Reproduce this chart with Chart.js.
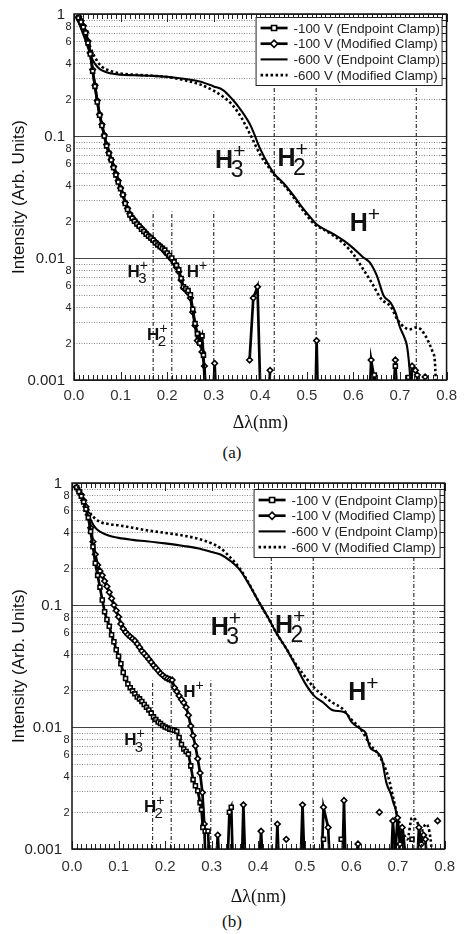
<!DOCTYPE html>
<html>
<head>
<meta charset="utf-8">
<script src="https://cdn.jsdelivr.net/npm/chart.js@4.4.1/dist/chart.umd.min.js"></script>
<style>
  body { margin: 0; background: #fff; width: 464px; height: 934px; position: relative; overflow: hidden; }
  canvas { position: absolute; left: 0; }
  #chartA { top: 0; }
  #chartB { top: 470px; }
  .cap { position: absolute; left: 0; width: 464px; text-align: center; font: 17px "Liberation Serif", serif; color: #111; }
</style>
</head>
<body>
<canvas id="chartA" width="464" height="434"></canvas>
<canvas id="chartB" width="464" height="438"></canvas>
<div class="cap" style="top:443px">(a)</div>
<div class="cap" style="top:912px">(b)</div>
<script>
// ---- shared axis / legend text ----
const xTicks = [0, 0.1, 0.2, 0.3, 0.4, 0.5, 0.6, 0.7, 0.8];
const yDecades = [0.001, 0.01, 0.1, 1];
const yDecadeLabels = ['0.001', '0.01', '0.1', '1'];
const yMinorSteps = [2, 3, 4, 5, 6, 7, 8, 9];
const yMinorLabeled = [2, 4, 6, 8];
const seriesNames = ['-100 V (Endpoint Clamp)', '-100 V (Modified Clamp)', '-600 V (Endpoint Clamp)', '-600 V (Modified Clamp)'];
const ionSubs = ['3', '2', ''];

// ---- panel (a) ----
const a100EndX = [0,0.005,0.01,0.015,0.02,0.025,0.03,0.035,0.04,0.045,0.05,0.055,0.06,0.065,0.07,0.075,0.08,0.085,0.09,0.095,0.1,0.105,0.11,0.115,0.12,0.125,0.13,0.135,0.14,0.145,0.15,0.155,0.16,0.165,0.17,0.175,0.18,0.185,0.19,0.195,0.2,0.205,0.21,0.215,0.22,0.225,0.23,0.235,0.24,0.245,0.25,0.255,0.26,0.265,0.27,0.275,0.278,0.282,0.3,0.64,0.645,0.65,0.67,0.685,0.69,0.695,0.705,0.713,0.718,0.723];
const a100EndY = [1,0.98,0.93,0.86,0.78,0.7,0.58,0.47,0.34,0.255,0.19,0.148,0.122,0.1,0.083,0.072,0.0636,0.055,0.048,0.042,0.037,0.033,0.028,0.025,0.0225,0.0212,0.02,0.019,0.0182,0.0172,0.0165,0.0157,0.0151,0.0146,0.014,0.0133,0.0128,0.0124,0.012,0.0116,0.011,0.0105,0.01,0.0093,0.0087,0.008,0.0068,0.0058,0.0056,0.0054,0.005,0.0038,0.0029,0.0024,0.002,0.0023,0.0016,0.0007,null,0.0006,0.0011,0.0006,null,0.0006,0.0013,0.0006,null,0.0006,0.00105,0.0006];
const a100ModX = [0,0.005,0.01,0.015,0.02,0.025,0.03,0.035,0.04,0.045,0.05,0.055,0.06,0.065,0.07,0.075,0.08,0.085,0.09,0.095,0.1,0.105,0.11,0.115,0.12,0.125,0.13,0.135,0.14,0.145,0.15,0.155,0.16,0.165,0.17,0.175,0.18,0.185,0.19,0.195,0.2,0.205,0.21,0.215,0.22,0.225,0.23,0.235,0.24,0.245,0.25,0.255,0.26,0.265,0.27,0.275,0.28,0.284,
  0.29,0.298,0.302,0.306,0.35,0.377,0.385,0.394,0.401,0.41,0.418,0.421,0.45,0.518,0.521,0.524,0.6,0.634,0.638,0.645,0.65,0.67,0.686,0.69,0.694,0.71,0.722,0.726,0.733,0.737,0.742,0.748,0.754];
const a100ModY = [1,0.99,0.95,0.88,0.8,0.71,0.6,0.48,0.35,0.26,0.195,0.15,0.124,0.102,0.085,0.073,0.064,0.056,0.049,0.043,0.0375,0.033,0.0285,0.0255,0.023,0.0215,0.0203,0.0192,0.0183,0.0175,0.0167,0.0159,0.0152,0.0146,0.0141,0.0135,0.013,0.0125,0.0119,0.0113,0.0108,0.0102,0.0097,0.0091,0.0084,0.0077,0.0066,0.0057,0.0055,0.0052,0.0047,0.0036,0.0028,0.0021,0.0023,0.0017,0.0013,0.0007,
  null,0.0006,0.00137,0.0006,null,0.00146,0.0047,0.0058,0.0006,null,0.0007,0.0012,null,0.0006,0.0021,0.0006,null,0.0006,0.00146,0.001,0.0006,null,0.0006,0.00146,0.0006,null,0.0006,0.0013,0.0012,0.0011,0.0006,null,0.00106];
const a600EndX = [0,0.01,0.02,0.03,0.04,0.05,0.06,0.08,0.1,0.13,0.16,0.2,0.24,0.27,0.3,0.32,0.34,0.36,0.38,0.4,0.42,0.43,0.45,0.47,0.49,0.51,0.52,0.54,0.56,0.58,0.6,0.62,0.635,0.65,0.665,0.68,0.69,0.7,0.71,0.715,0.72,0.725];
const a600EndY = [1,0.85,0.68,0.53,0.42,0.37,0.345,0.325,0.318,0.315,0.312,0.306,0.293,0.28,0.255,0.238,0.2,0.16,0.12,0.078,0.056,0.049,0.041,0.033,0.026,0.021,0.019,0.017,0.0155,0.0138,0.012,0.0102,0.0092,0.0072,0.0049,0.0043,0.0036,0.0027,0.0022,0.0019,0.0013,0.0007];
const a600ModX = [0,0.01,0.02,0.03,0.04,0.05,0.06,0.08,0.1,0.13,0.16,0.2,0.24,0.27,0.3,0.32,0.34,0.36,0.38,0.4,0.42,0.43,0.45,0.47,0.49,0.51,0.52,0.54,0.56,0.58,0.6,0.62,0.64,0.66,0.68,0.695,0.71,0.72,0.735,0.745,0.76,0.77,0.775,0.778];
const a600ModY = [1,0.9,0.75,0.6,0.48,0.41,0.37,0.34,0.325,0.318,0.313,0.305,0.285,0.265,0.235,0.21,0.18,0.14,0.1,0.07,0.054,0.048,0.04,0.032,0.025,0.02,0.0185,0.0168,0.015,0.013,0.0107,0.0082,0.0062,0.0046,0.004,0.0031,0.0027,0.0026,0.0027,0.0026,0.0021,0.0017,0.0014,0.0007];
const aShortLineX = [0.17, 0.21, 0.30];
const aTallLineX = [0.43, 0.52, 0.735];
const aBigIonX = [0.303, 0.437, 0.592];
const aBigIonY = [0.0547, 0.0568, 0.0166];
const aSmallIonX = [0.115, 0.157, 0.242];
const aSmallIonY = [0.00703, 0.00213, 0.00703];

// ---- panel (b) ----
const b100EndX = [0,0.005,0.01,0.015,0.02,0.025,0.03,0.035,0.04,0.045,0.05,0.055,0.06,0.065,0.07,0.075,0.08,0.085,0.09,0.095,0.1,0.105,0.11,0.115,0.12,0.125,0.13,0.135,0.14,0.145,0.15,0.155,0.16,0.165,0.17,0.175,0.18,0.185,0.19,0.195,0.2,0.205,0.21,0.215,0.22,0.225,0.23,0.235,0.24,0.245,0.25,0.255,0.26,0.265,0.27,0.275,
  0.278,0.281,0.286,0.292,0.296,0.32,0.333,0.338,0.342,0.346,0.5,0.54,0.56,0.578,0.7,0.73];
const b100EndY = [1,0.97,0.92,0.85,0.78,0.7,0.61,0.52,0.4,0.3,0.22,0.175,0.14,0.11,0.088,0.076,0.067,0.057,0.05,0.043,0.038,0.033,0.028,0.025,0.0225,0.021,0.0198,0.0187,0.0176,0.017,0.0162,0.0153,0.0145,0.0138,0.013,0.0121,0.0115,0.011,0.0107,0.0103,0.01,0.0098,0.0096,0.0095,0.0094,0.0092,0.0082,0.0072,0.0066,0.0063,0.006,0.0048,0.0037,0.0033,0.003,0.0024,
  0.0021,0.0015,0.0014,0.0014,0.0007,null,0.0006,0.002,0.0022,0.0006,null,0.0012,null,0.0012,null,0.0012];
const b100ModX = [0,0.005,0.01,0.015,0.02,0.025,0.03,0.035,0.04,0.045,0.05,0.055,0.06,0.065,0.07,0.075,0.08,0.085,0.09,0.095,0.1,0.105,0.11,0.115,0.12,0.125,0.13,0.135,0.14,0.145,0.15,0.155,0.16,0.165,0.17,0.175,0.18,0.185,0.19,0.195,0.2,0.205,0.21,0.215,0.22,0.225,0.23,0.235,0.24,0.245,0.25,0.255,0.26,0.265,0.27,0.275,0.28,0.284,0.287,
  0.3,0.308,0.313,0.318,0.36,0.364,0.368,0.373,0.39,0.401,0.406,0.411,0.43,0.437,0.441,0.445,0.452,0.46,0.47,0.49,0.495,0.5,0.52,0.535,0.54,0.55,0.555,0.57,0.58,0.584,0.588,0.6,0.61,0.614,0.618,0.64,0.66,0.675,0.684,0.689,0.694,0.699,0.704,0.709,0.714,0.72,0.74,0.745,0.75,0.755,0.759,0.764,0.775,0.785];
const b100ModY = [1,0.97,0.92,0.86,0.8,0.72,0.64,0.55,0.43,0.33,0.26,0.213,0.19,0.175,0.157,0.142,0.127,0.113,0.1,0.09,0.08,0.07,0.064,0.06,0.057,0.055,0.053,0.051,0.048,0.045,0.042,0.04,0.038,0.036,0.034,0.032,0.0305,0.029,0.0275,0.0265,0.0255,0.025,0.0245,0.0243,0.021,0.0195,0.018,0.0168,0.0158,0.0145,0.0125,0.0102,0.0085,0.007,0.0055,0.0042,0.0029,0.0016,0.0007,
  null,0.0006,0.0013,0.0006,null,0.0006,0.0023,0.0006,null,0.0006,0.0014,0.0006,null,0.0006,0.0016,0.0006,null,0.0012,null,0.0006,0.0023,0.0006,null,0.0006,0.0022,0.0015,0.0006,null,0.0006,0.0025,0.0006,null,0.0006,0.0011,0.0006,null,0.002,null,0.0006,0.0017,0.0009,0.0018,0.0011,0.0015,0.0007,null,0.0006,0.0015,0.0011,0.0013,0.0012,0.0006,null,0.0017];
const b600EndX = [0,0.01,0.02,0.03,0.04,0.05,0.06,0.08,0.1,0.13,0.16,0.2,0.24,0.27,0.3,0.32,0.34,0.36,0.38,0.4,0.42,0.44,0.46,0.48,0.5,0.52,0.54,0.56,0.58,0.59,0.6,0.62,0.63,0.64,0.655,0.665,0.675,0.685,0.69,0.695,0.7,0.705,0.71,0.715,0.72];
const b600EndY = [1,0.9,0.78,0.64,0.5,0.43,0.4,0.37,0.355,0.342,0.333,0.32,0.305,0.292,0.272,0.258,0.23,0.195,0.148,0.108,0.08,0.058,0.044,0.032,0.023,0.018,0.0158,0.0137,0.0134,0.0128,0.011,0.0096,0.009,0.0068,0.0062,0.0055,0.0035,0.0028,0.0024,0.0021,0.0016,0.0013,0.0015,0.001,0.0007];
const b600ModX = [0,0.01,0.02,0.03,0.04,0.05,0.06,0.08,0.1,0.13,0.16,0.2,0.24,0.27,0.3,0.32,0.34,0.36,0.38,0.4,0.42,0.44,0.46,0.48,0.5,0.52,0.54,0.56,0.58,0.6,0.62,0.64,0.66,0.68,0.69,0.7,0.71,0.72,0.73,0.74,0.75,0.76,0.77,0.775];
const b600ModY = [1,0.9,0.78,0.66,0.56,0.51,0.48,0.46,0.45,0.43,0.41,0.39,0.37,0.35,0.32,0.29,0.245,0.2,0.15,0.108,0.08,0.058,0.044,0.033,0.026,0.021,0.018,0.0158,0.0142,0.0115,0.0096,0.0072,0.0058,0.0038,0.0026,0.0018,0.0014,0.0012,0.0018,0.0017,0.0014,0.0016,0.0012,0.0007];
const bShortLineX = [0.173, 0.213, 0.298];
const bTallLineX = [0.428, 0.518, 0.734];
const bBigIonX = [0.298, 0.436, 0.593];
const bBigIonY = [0.0568, 0.059, 0.0166];
const bSmallIonX = [0.112, 0.1545, 0.239];
const bSmallIonY = [0.0071, 0.00202, 0.0176];

const shortLineTop = 0.024;
const tallLineTop = 0.25;

const FONT = "'Liberation Sans', Arial, sans-serif";

function pts(xs, ys) {
  return xs.map((x, i) => ({ x: x, y: ys[i] }));
}

// vertical dash-dot guide lines, one dataset, broken by nulls
function guideData(shortX, tallX) {
  const out = [];
  shortX.forEach(x => { out.push({ x, y: 0.001 }, { x, y: shortLineTop }, { x, y: null }); });
  tallX.forEach(x => { out.push({ x, y: 0.001 }, { x, y: tallLineTop }, { x, y: null }); });
  return out;
}

function drawIon(ctx, px, py, sub, size) {
  ctx.fillStyle = '#111';
  ctx.textAlign = 'left';
  ctx.textBaseline = 'alphabetic';
  ctx.font = `bold ${size}px ${FONT}`;
  ctx.fillText('H', px, py);
  const w = ctx.measureText('H').width;
  ctx.font = `${Math.round(size * 0.9)}px ${FONT}`;
  if (sub) ctx.fillText(sub, px + w - size * 0.1, py + size * 0.38);
  ctx.font = `${Math.round(size * 0.85)}px ${FONT}`;
  ctx.fillText('+', px + w, py - size * 0.4);
}

const panelPlugin = {
  id: 'panel',
  beforeDatasetsDraw(chart) {
    const { ctx, chartArea: a, scales: { y } } = chart;
    ctx.save();
    ctx.lineWidth = 1;
    // minor grid, dotted
    ctx.strokeStyle = '#8c8c8c';
    ctx.setLineDash([1, 1.5]);
    yDecades.slice(0, -1).forEach(d => yMinorSteps.forEach(m => {
      const py = Math.round(y.getPixelForValue(d * m)) + 0.5;
      ctx.beginPath(); ctx.moveTo(a.left, py); ctx.lineTo(a.right, py); ctx.stroke();
    }));
    // decade lines, solid
    ctx.setLineDash([]);
    ctx.strokeStyle = '#444';
    yDecades.forEach(d => {
      const py = Math.round(y.getPixelForValue(d)) + 0.5;
      ctx.beginPath(); ctx.moveTo(a.left, py); ctx.lineTo(a.right, py); ctx.stroke();
    });
    ctx.restore();
  },
  afterDatasetsDraw(chart, args, o) {
    const { ctx, chartArea: a, scales: { x, y } } = chart;
    ctx.save();

    // x minor / major ticks, top and bottom
    ctx.strokeStyle = '#222';
    ctx.lineWidth = 1;
    for (let i = 0; i <= 80; i++) {
      const px = Math.round(x.getPixelForValue(i / 100)) + 0.5;
      const len = i % 10 === 0 ? 8 : 5;
      ctx.beginPath();
      ctx.moveTo(px, a.bottom); ctx.lineTo(px, a.bottom - len);
      ctx.moveTo(px, a.top); ctx.lineTo(px, a.top + len);
      ctx.stroke();
    }
    // y ticks on right edge
    yDecades.slice(0, -1).forEach(d => yMinorSteps.forEach(m => {
      const py = Math.round(y.getPixelForValue(d * m)) + 0.5;
      ctx.beginPath(); ctx.moveTo(a.right, py); ctx.lineTo(a.right - 5, py); ctx.stroke();
    }));

    // frame
    ctx.lineWidth = 1.5;
    ctx.strokeStyle = '#111';
    ctx.strokeRect(a.left, a.top, a.right - a.left, a.bottom - a.top);

    // y labels
    ctx.fillStyle = '#222';
    ctx.textAlign = 'right';
    ctx.textBaseline = 'middle';
    ctx.font = `15px ${FONT}`;
    yDecades.forEach((d, i) => ctx.fillText(yDecadeLabels[i], a.left - o.decGap, y.getPixelForValue(d) + 1));
    ctx.font = `11px ${FONT}`;
    yDecades.slice(0, -1).forEach(d => yMinorLabeled.forEach(m => {
      ctx.fillText(String(m), a.left - o.minGap, y.getPixelForValue(d * m) + 1);
    }));

    // ion labels
    o.bigX.forEach((v, i) => drawIon(ctx, x.getPixelForValue(v), y.getPixelForValue(o.bigY[i]), ionSubs[i], 25));
    o.smallX.forEach((v, i) => drawIon(ctx, x.getPixelForValue(v), y.getPixelForValue(o.smallY[i]), ionSubs[i], 17));

    // legend box
    const bx = a.right - 191, by = a.top + o.legendTop, bw = 186, bh = 68;
    ctx.fillStyle = '#fff';
    ctx.fillRect(bx, by, bw, bh);
    ctx.lineWidth = 1;
    ctx.strokeStyle = '#222';
    ctx.strokeRect(bx + 0.5, by + 0.5, bw, bh);
    ctx.font = `13.3px ${FONT}`;
    ctx.textAlign = 'left';
    ctx.textBaseline = 'middle';
    chart.data.datasets.slice(0, 4).forEach((ds, i) => {
      const ry = by + 11 + i * 15.7;
      ctx.save();
      ctx.strokeStyle = '#000';
      ctx.lineWidth = ds.borderWidth;
      ctx.setLineDash(ds.borderDash || []);
      ctx.beginPath(); ctx.moveTo(bx + 5, ry); ctx.lineTo(bx + 32, ry); ctx.stroke();
      ctx.restore();
      if (ds.pointRadius > 0) {
        ctx.fillStyle = '#fff';
        ctx.strokeStyle = '#000';
        ctx.lineWidth = ds.pointBorderWidth;
        Chart.helpers.drawPoint(ctx, { pointStyle: ds.pointStyle, radius: ds.pointRadius + 0.8, borderWidth: ds.pointBorderWidth }, bx + 18.5, ry);
      }
      ctx.fillStyle = '#222';
      ctx.fillText(ds.label, bx + 38, ry + 1);
    });
    ctx.restore();
  }
};

function makeChart(id, series, shortX, tallX, lay) {
  const marker = { pointBackgroundColor: '#fff', pointBorderColor: '#000', pointBorderWidth: 1.6 };
  const datasets = [
    Object.assign({ label: seriesNames[0], data: pts(series[0][0], series[0][1]), borderColor: '#000', borderWidth: 2.7,
      pointStyle: 'rect', pointRadius: 2.8 }, marker),
    Object.assign({ label: seriesNames[1], data: pts(series[1][0], series[1][1]), borderColor: '#000', borderWidth: 2.7,
      pointStyle: 'rectRot', pointRadius: 2.8 }, marker),
    { label: seriesNames[2], data: pts(series[2][0], series[2][1]), borderColor: '#000', borderWidth: 2.1,
      pointRadius: 0, cubicInterpolationMode: 'monotone' },
    { label: seriesNames[3], data: pts(series[3][0], series[3][1]), borderColor: '#000', borderWidth: 2.6,
      borderDash: [2.5, 2.5], pointRadius: 0, cubicInterpolationMode: 'monotone' },
    { label: 'guides', data: guideData(shortX, tallX), borderColor: '#333', borderWidth: 1.2,
      borderDash: [4, 2, 1, 2], pointRadius: 0 }
  ];

  return new Chart(document.getElementById(id), {
    type: 'line',
    data: { datasets },
    plugins: [panelPlugin],
    options: {
      responsive: false,
      animation: false,
      spanGaps: false,
      layout: { padding: { top: lay.padTop, right: lay.padRight, left: 0, bottom: 0 } },
      plugins: {
        legend: { display: false },
        tooltip: { enabled: false },
        panel: lay
      },
      scales: {
        x: {
          type: 'linear', min: 0, max: 0.8,
          grid: { display: false, drawTicks: false },
          border: { display: false },
          afterBuildTicks: s => { s.ticks = xTicks.map(v => ({ value: v })); },
          ticks: { callback: v => v.toFixed(1), font: { family: FONT, size: 15 }, color: '#333',
            padding: lay.xPad, maxRotation: 0, autoSkip: false },
          title: { display: true, text: 'Δλ(nm)', font: { family: "'Liberation Serif', serif", size: 18 },
            color: '#111', padding: 0 },
          afterFit: s => { s.height = lay.xH; }
        },
        y: {
          type: 'logarithmic', min: 0.001, max: 1,
          grid: { display: false, drawTicks: false },
          border: { display: false },
          ticks: { display: false },
          title: { display: true, text: 'Intensity (Arb. Units)', font: { family: FONT, size: 17 },
            color: '#111', padding: { top: 9, bottom: 0 } },
          afterFit: s => { s.width = lay.yW; }
        }
      }
    }
  });
}

makeChart('chartA',
  [[a100EndX, a100EndY], [a100ModX, a100ModY], [a600EndX, a600EndY], [a600ModX, a600ModY]],
  aShortLineX, aTallLineX,
  { padTop: 14, padRight: 12, yW: 74, xH: 54, xPad: 7, legendTop: 3, decGap: 9, minGap: 2.5,
    bigX: aBigIonX, bigY: aBigIonY, smallX: aSmallIonX, smallY: aSmallIonY });

makeChart('chartB',
  [[b100EndX, b100EndY], [b100ModX, b100ModY], [b600EndX, b600EndY], [b600ModX, b600ModY]],
  bShortLineX, bTallLineX,
  { padTop: 13, padRight: 14, yW: 72, xH: 59, xPad: 9, legendTop: 6, decGap: 10, minGap: 2.5,
    bigX: bBigIonX, bigY: bBigIonY, smallX: bSmallIonX, smallY: bSmallIonY });
</script>
</body>
</html>
